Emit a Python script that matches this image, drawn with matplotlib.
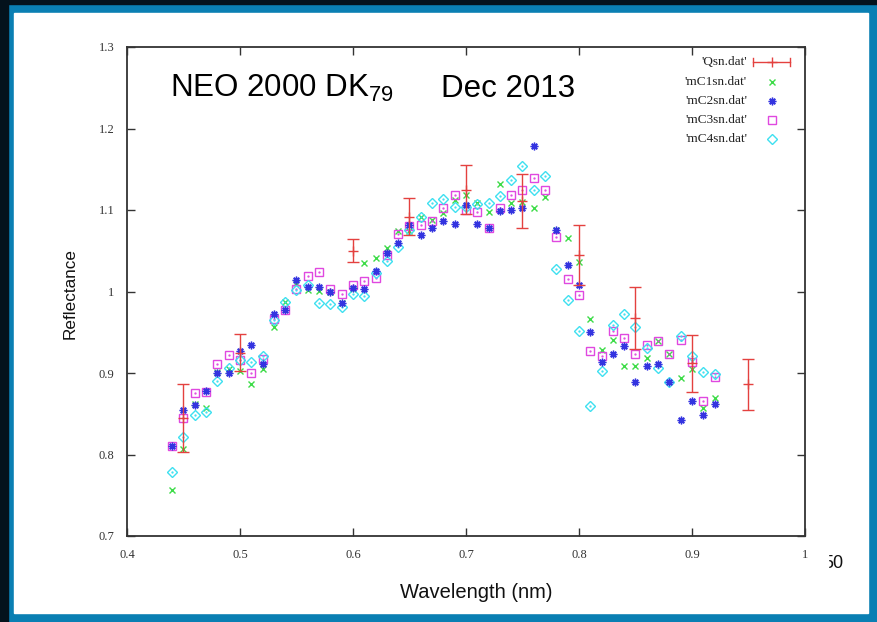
import numpy as np
import matplotlib
matplotlib.use("Agg")
import matplotlib.pyplot as plt
from matplotlib.patches import Rectangle

plt.rcParams["mathtext.fontset"] = "custom"
plt.rcParams["mathtext.rm"] = "Liberation Sans"

# %% data
wl = np.round(np.arange(0.44, 0.925, 0.01), 2)

mc1 = [0.756, 0.807, 0.862, 0.857, 0.901, 0.905, 0.902, 0.886, 0.905, 0.956,
       0.987, 1.010, 1.002, 1.001, 1.000, 0.986, 1.003, 1.035, 1.041, 1.053,
       1.074, 1.074, 1.091, 1.088, 1.096, 1.112, 1.119, 1.108, 1.097, 1.132,
       1.108, 1.110, 1.102, 1.116, 1.075, 1.066, 1.036, 0.966, 0.928, 0.940,
       0.909, 0.908, 0.919, 0.939, 0.923, 0.894, 0.905, 0.857, 0.869]
mc2 = [0.810, 0.855, 0.861, 0.878, 0.900, 0.900, 0.927, 0.934, 0.911, 0.973,
       0.977, 1.014, 1.006, 1.005, 1.000, 0.986, 1.004, 1.003, 1.025, 1.047,
       1.060, 1.082, 1.069, 1.078, 1.086, 1.083, 1.106, 1.083, 1.078, 1.099,
       1.100, 1.103, 1.179, np.nan, 1.076, 1.032, 1.008, 0.950, 0.914, 0.923,
       0.933, 0.889, 0.908, 0.911, 0.889, 0.842, 0.866, 0.848, 0.862]
mc3 = [0.810, 0.845, 0.876, 0.877, 0.911, 0.922, 0.916, 0.900, 0.917, 0.966,
       0.977, 1.003, 1.019, 1.024, 1.003, 0.997, 1.008, 1.013, 1.017, 1.045,
       1.071, 1.080, 1.082, 1.086, 1.103, 1.118, 1.100, 1.098, 1.078, 1.102,
       1.118, 1.125, 1.139, 1.124, 1.067, 1.015, 0.996, 0.927, 0.921, 0.951,
       0.943, 0.923, 0.934, 0.939, 0.923, 0.940, 0.913, 0.866, 0.895]
mc4 = [0.779, 0.821, 0.848, 0.852, 0.890, 0.906, 0.916, 0.913, 0.921, 0.965,
       0.987, 1.002, 1.008, 0.986, 0.985, 0.981, 0.997, 0.995, 1.023, 1.037,
       1.054, 1.076, 1.091, 1.109, 1.113, 1.104, 1.104, 1.107, 1.109, 1.117,
       1.137, 1.154, 1.125, 1.142, 1.028, 0.990, 0.951, 0.859, 0.902, 0.959,
       0.973, 0.956, 0.931, 0.906, 0.889, 0.945, 0.921, 0.901, 0.899]

q_wl = [0.45, 0.50, 0.60, 0.65, 0.70, 0.75, 0.80, 0.85, 0.90, 0.95]
q_val = [0.845, 0.925, 1.050, 1.092, 1.125, 1.111, 1.045, 0.968, 0.912, 0.886]
q_err = [0.042, 0.023, 0.014, 0.023, 0.030, 0.033, 0.037, 0.038, 0.035, 0.031]

labels = ["'Qsn.dat'", "'mC1sn.dat'", "'mC2sn.dat'", "'mC3sn.dat'", "'mC4sn.dat'"]
xticks = [0.4, 0.5, 0.6, 0.7, 0.8, 0.9, 1.0]
xticklabels = ["0.4", "0.5", "0.6", "0.7", "0.8", "0.9", "1"]
yticks = [0.7, 0.8, 0.9, 1.0, 1.1, 1.2, 1.3]
yticklabels = ["0.7", "0.8", "0.9", "1", "1.1", "1.2", "1.3"]

# %% colours / styles
W, H = 877, 622
c_red = "#e4413f"
c_green = "#3ddc48"
c_blue = "#3434e0"
c_mag = "#e048e0"
c_cyan = "#3ee0f0"
star = (8, 2, 0)
serif = "Liberation Serif"
sans = "Liberation Sans"

st_x = dict(marker="x", color=c_green, ms=5, mew=1.0)
st_star = dict(marker=star, color=c_blue, ms=5.5, mew=1.0)
st_sq = dict(marker="s", mfc="none", mec=c_mag, ms=5.8, mew=1.0)
st_dia = dict(marker="D", mfc="none", mec=c_cyan, ms=4.6, mew=1.0)

fig = plt.figure(figsize=(W / 100, H / 100), dpi=100, facecolor="#0a7fb3")


def fx(px):
    return px / W


def fy(py):
    return 1 - py / H


# frame: dark strips and white panel
fig.patches.append(Rectangle((0, 0), fx(8), 1, transform=fig.transFigure,
                             color="#04121c", zorder=-2))
fig.patches.append(Rectangle((0, fy(4)), 1, 4 / H, transform=fig.transFigure,
                             color="#04121c", zorder=-2))
fig.patches.append(Rectangle((fx(14), fy(613)), fx(868 - 14), (613 - 13) / H,
                             transform=fig.transFigure, color="white",
                             zorder=-1))

ax = fig.add_axes([fx(127), fy(536), fx(805 - 127), (536 - 47) / H])
ax.set_zorder(5)
ax.set_facecolor("white")
ax.set_xlim(0.4, 1.0)
ax.set_ylim(0.7, 1.3)

ax.errorbar(q_wl, q_val, yerr=q_err, fmt="+", color=c_red, ecolor=c_red,
            elinewidth=1.0, capsize=4, capthick=1.0, markersize=7, mew=1.0,
            zorder=5)
ax.plot(wl, mc1, ls="none", zorder=3, **st_x)
ax.plot(wl, mc2, ls="none", zorder=4, **st_star)
ax.plot(wl, mc3, ls="none", zorder=3, **st_sq)
ax.plot(wl, mc3, ls="none", marker=".", color=c_mag, ms=1.3, zorder=3)
ax.plot(wl, mc4, ls="none", zorder=3, **st_dia)
ax.plot(wl, mc4, ls="none", marker=".", color=c_cyan, ms=1.3, zorder=3)

ax.set_xticks(xticks)
ax.set_xticklabels(xticklabels, fontfamily=serif, fontsize=9)
ax.set_yticks(yticks)
ax.set_yticklabels(yticklabels, fontfamily=serif, fontsize=9)
ax.tick_params(direction="in", length=6, width=1, colors="#333333",
               top=True, right=True, pad=9)
for s in ax.spines.values():
    s.set_linewidth(1.3)
    s.set_color("#333333")

# legend, gnuplot style (text right-aligned, sample on the right)
rows = [62, 82, 101, 120, 139]
tr = ax.transAxes


def ax_x(px):
    return (px - 127) / (805 - 127)


def ax_y(py):
    return (536 - py) / (536 - 47)


for lab, py in zip(labels, rows):
    ax.text(ax_x(747), ax_y(py), lab, transform=tr, ha="right", va="center",
            fontfamily=serif, fontsize=9.5, color="#222222")
yq = ax_y(rows[0])
ax.plot([ax_x(753), ax_x(790)], [yq, yq], transform=tr, color=c_red, lw=1.0,
        clip_on=False)
for xe in (753, 790):
    ax.plot([ax_x(xe)] * 2, [yq - 0.008, yq + 0.008], transform=tr,
            color=c_red, lw=1.0, clip_on=False)
ax.plot([ax_x(772)], [yq], transform=tr, marker="+", color=c_red, ms=7, mew=1.0)
ax.plot([ax_x(772)], [ax_y(rows[1])], transform=tr, **st_x)
ax.plot([ax_x(772)], [ax_y(rows[2])], transform=tr, **st_star)
ax.plot([ax_x(772)], [ax_y(rows[3])], transform=tr, **st_sq)
ax.plot([ax_x(772)], [ax_y(rows[4])], transform=tr, **st_dia)

# titles and axis labels
ax.text(ax_x(170), ax_y(97), r"NEO 2000 DK$_\mathregular{79}$", transform=tr,
        fontfamily=sans, fontsize=22.5, ha="left", va="baseline",
        color="black", zorder=6)
ax.text(ax_x(441), ax_y(97), "Dec 2013", transform=tr, fontfamily=sans,
        fontsize=22.5, ha="left", va="baseline", color="black", zorder=6)
fig.text(fx(70), fy(294), "Reflectance", fontfamily=sans, fontsize=12.3,
         rotation=90, ha="center", va="center", color="#111111")
fig.text(fx(476), fy(593), "Wavelength (nm)", fontfamily=sans, fontsize=14.5,
         ha="center", va="center", color="#111111")

# leftover label partly hidden at the bottom right
fig.text(fx(823), fy(563), "50", fontfamily=sans, fontsize=13, ha="left",
         va="center", color="#111111", zorder=1)
fig.patches.append(Rectangle((fx(815), fy(575)), fx(13), 22 / H,
                             transform=fig.transFigure, color="white",
                             zorder=10))

fig.savefig("out.png", dpi=100, facecolor=fig.get_facecolor())
